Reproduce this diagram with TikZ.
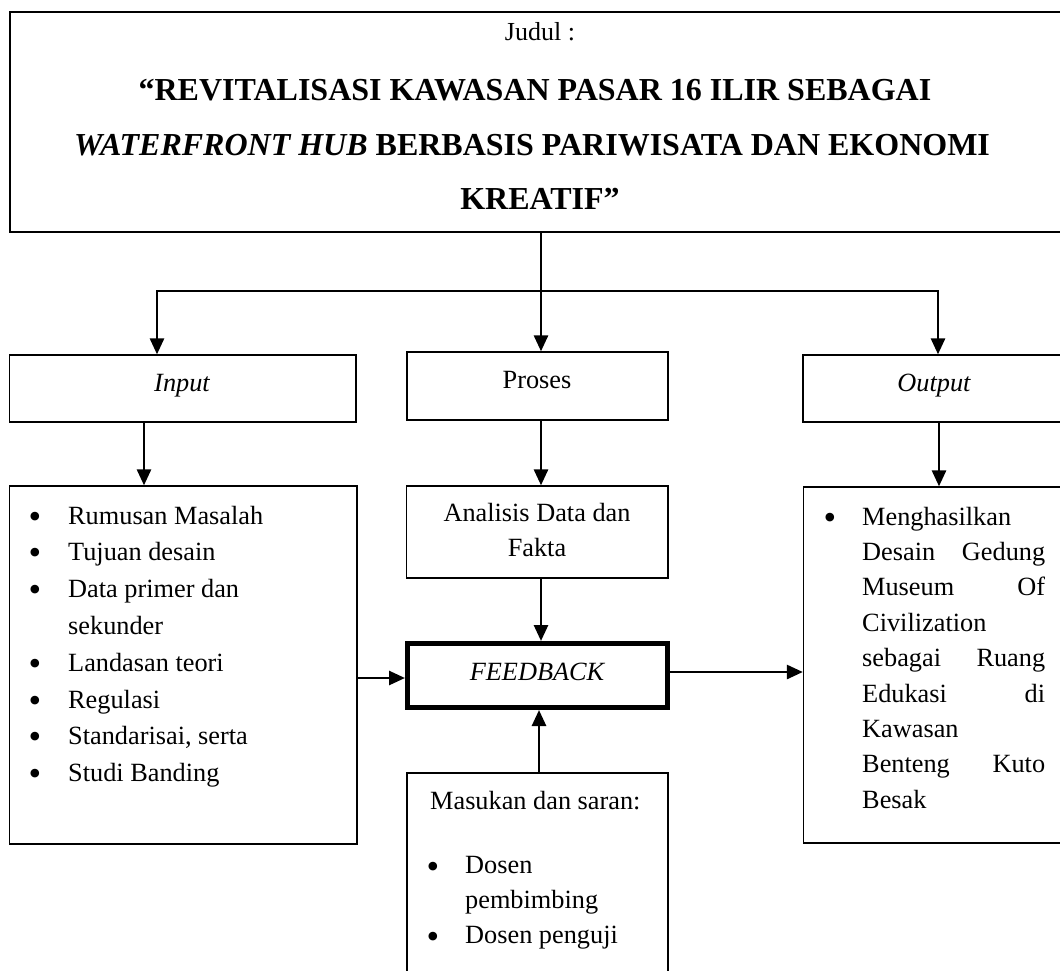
\documentclass[tikz,border=0pt]{standalone}
\usepackage{fontspec}
\setmainfont{Liberation Serif}
\usetikzlibrary{arrows.meta}
\newcommand\mybody{\fontsize{26.3pt}{36pt}\selectfont}
\newcommand\mytitle{\fontsize{32pt}{40pt}\selectfont\bfseries}
\begin{document}
\begin{tikzpicture}[x=1pt,y=-1pt,
  box/.style={draw, line width=1.3pt, inner sep=0pt},
  arr/.style={line width=2.7pt, -{Triangle[length=16pt,width=14pt]}},
  txt/.style={inner sep=0pt, font=\mybody},
  ttl/.style={inner sep=0pt, anchor=base, font=\mytitle},
  bul/.style={inner sep=0pt, font=\fontsize{36pt}{36pt}\selectfont}]
\useasboundingbox (0,0) rectangle (1060,970);

% boxes
\node[box, line width=2.4pt, minimum width=1075pt, minimum height=220pt] (titlebox) at (547.5,122) {};
\node[box, minimum width=346.5pt, minimum height=67pt] (inputbox) at (182.75,388.5) {};
\node[box, minimum width=261pt, minimum height=68pt] (prosesbox) at (537.5,386) {};
\node[box, minimum width=282pt, minimum height=67pt] (outputbox) at (944,388.5) {};
\node[box, minimum width=347.5pt, minimum height=358pt] (inlist) at (183.25,665) {};
\node[box, minimum width=261.5pt, minimum height=92pt] (analisis) at (537.25,532) {};
\node[box, line width=5pt, minimum width=260pt, minimum height=64pt] (feedback) at (537.5,675.5) {};
\node[box, minimum width=281.5pt, minimum height=356pt] (outlist) at (944.25,665) {};
\node[box, minimum width=261pt, minimum height=237pt] (masukan) at (537.5,891.5) {};

% title text
\node[inner sep=0pt, anchor=base, font=\fontsize{26pt}{30pt}\selectfont] (judul) at (540,40) {Judul :};
\node[ttl] (t1) at (535,100) {“REVITALISASI KAWASAN PASAR 16 ILIR SEBAGAI};
\node[ttl] (t2) at (532,155) {{\itshape WATERFRONT HUB} BERBASIS PARIWISATA DAN EKONOMI};
\node[ttl] (t3) at (540,209) {KREATIF”};

% single labels
\node[txt, anchor=base] (inputtxt) at (182,391) {\itshape Input};
\node[txt, anchor=base] (prosestxt) at (537,388) {Proses};
\node[txt, anchor=base] (outputtxt) at (934,391) {\itshape Output};
\node[txt, anchor=base] (anal1) at (537,521) {Analisis Data dan};
\node[txt, anchor=base] (anal2) at (537,556) {Fakta};
\node[txt, anchor=base] (fbtxt) at (537,680) {\itshape FEEDBACK};

% input list
\foreach \b/\t [count=\i] in {1/Rumusan Masalah, 1/Tujuan desain, 1/Data primer dan, 0/sekunder, 1/Landasan teori, 1/Regulasi, 1/{Standarisai, serta}, 1/Studi Banding}{
  \node[txt, anchor=base west] (in\i) at ({68},{524+36.8*(\i-1)}) {\t};
  \ifnum\b=1 \node[bul] (inb\i) at ({35},{520+36.8*(\i-1)}) {•};\fi
}

% output list
\foreach \m/\t [count=\i] in {l/Menghasilkan, s/Desain Gedung, s/Museum Of, l/Civilization, s/sebagai Ruang, s/Edukasi di, l/Kawasan, s/Benteng Kuto, l/Besak}{
  \node[txt, anchor=base west] (out\i) at ({862},{525+35.4*(\i-1)}) {\makebox[183pt][\m]{\t}};
}
\node[bul] (outb) at (830,521.5) {•};

% masukan
\node[txt, anchor=base west] (mas0) at (430,809) {Masukan dan saran:};
\node[txt, anchor=base west] (mas1) at (465,873) {Dosen};
\node[txt, anchor=base west] (mas2) at (465,908) {pembimbing};
\node[txt, anchor=base west] (mas3) at (465,943) {Dosen penguji};
\node[bul] (masb1) at (433,870) {•};
\node[bul] (masb2) at (433,940) {•};

% connector helpers
\coordinate (cxL) at (144,0);
\coordinate (cxM) at (541,0);
\coordinate (cxM2) at (539,0);
\coordinate (cxR) at (939,0);
\coordinate (jl) at (157,291);
\coordinate (jr) at (938,291);
\coordinate (cyL) at (0,678);
\coordinate (cyR) at (0,672);

% connectors
\draw[arr] (titlebox.south -| cxM) -- (prosesbox.north -| cxM);
\draw[arr] (jr) -- (jl) -- (inputbox.north -| jl);
\draw[arr] (jl) -- (jr) -- (outputbox.north -| jr);
\draw[arr] (inputbox.south -| cxL) -- (inlist.north -| cxL);
\draw[arr] (prosesbox.south -| cxM) -- (analisis.north -| cxM);
\draw[arr] (outputbox.south -| cxR) -- (outlist.north -| cxR);
\draw[arr] (analisis.south -| cxM) -- (feedback.north -| cxM);
\draw[arr] (inlist.east |- cyL) -- (feedback.west |- cyL);
\draw[arr] (feedback.east |- cyR) -- (outlist.west |- cyR);
\draw[arr] (masukan.north -| cxM2) -- (feedback.south -| cxM2);
\end{tikzpicture}
\end{document}
